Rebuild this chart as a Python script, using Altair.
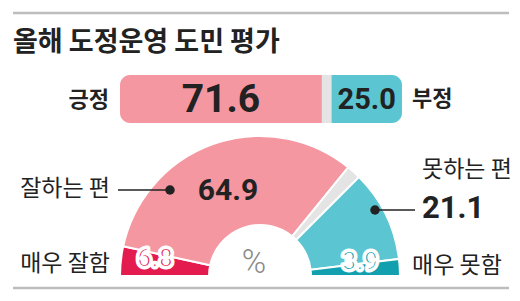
import altair as alt
import pandas as pd

# ---- data ----
overall_labels = ["긍정", "기타", "부정"]
overall_values = [71.6, 3.4, 25.0]
overall_colors = ["#F497A1", "#E4E4E4", "#5BC5D1"]

detail_labels = ["매우 잘함", "잘하는 편", "기타", "못하는 편", "매우 못함"]
detail_values = [6.8, 64.9, 3.3, 21.1, 3.9]
detail_colors = ["#E31B4F", "#F497A1", "#E4E4E4", "#5BC5D1", "#13A0AE"]

title_text = "올해 도정운영 도민 평가"

KFONT = "Noto Sans CJK KR"
NFONT = "Roboto"
W, H = 520, 301

# ---- tables ----
starts = []
acc = 0.0
for v in overall_values:
    starts.append(acc)
    acc += v
bar_df = pd.DataFrame({
    "label": overall_labels,
    "value": overall_values,
    "start": starts,
    "end": [s + v for s, v in zip(starts, overall_values)],
    "color": overall_colors,
})
bar_df["mid"] = (bar_df["start"] + bar_df["end"]) / 2

arc_df = pd.DataFrame({
    "label": detail_labels,
    "value": detail_values,
    "order": list(range(len(detail_labels))),
    "color": detail_colors,
})

xbar = alt.Scale(domain=[0, 100], range=[120, 402])

def bar_layer(label, **corner):
    return alt.Chart(bar_df).transform_filter(
        alt.datum.label == label
    ).mark_bar(**corner).encode(
        x=alt.X("start:Q", scale=xbar, axis=None),
        x2="end:Q",
        y=alt.value(75),
        y2=alt.value(123),
        color=alt.Color("color:N", scale=None, legend=None),
    )

bars = (
    bar_layer("긍정", cornerRadiusTopLeft=10, cornerRadiusBottomLeft=10)
    + bar_layer("기타")
    + bar_layer("부정", cornerRadiusTopRight=10, cornerRadiusBottomRight=10)
)

bar_text_big = alt.Chart(bar_df).transform_filter(alt.datum.label == "긍정").mark_text(
    font=NFONT, fontWeight="bold", fontSize=39, color="#222222", baseline="middle", dy=1
).encode(
    x=alt.X("mid:Q", scale=xbar, axis=None),
    y=alt.value(99),
    text=alt.Text("value:Q", format=".1f"),
)
bar_text_small = alt.Chart(bar_df).transform_filter(alt.datum.label == "부정").mark_text(
    font=NFONT, fontWeight="bold", fontSize=29, color="#222222", baseline="middle", dy=1
).encode(
    x=alt.X("mid:Q", scale=xbar, axis=None),
    y=alt.value(99),
    text=alt.Text("value:Q", format=".1f"),
)

arcs = alt.Chart(arc_df).mark_arc(
    outerRadius=140, innerRadius=51, stroke="white", strokeWidth=2
).encode(
    theta=alt.Theta("value:Q", stack=True,
                    scale=alt.Scale(domain=[0, 100], range=[-1.5708, 1.5708])),
    order=alt.Order("order:Q"),
    color=alt.Color("color:N", scale=None, legend=None),
    x=alt.value(260),
    y=alt.value(276),
)

def txt(text, x, y, size, align="left", weight="normal", font=KFONT, color="#222222", **kw):
    return alt.Chart(pd.DataFrame({"t": [text]})).mark_text(
        font=font, fontSize=size, fontWeight=weight, align=align,
        baseline="middle", color=color, **kw
    ).encode(x=alt.value(x), y=alt.value(y), text="t:N")

def outlined(text, x, y, size, color):
    halo = txt(text, x, y, size, align="center", weight="bold", font=NFONT,
               color="white", stroke="white", strokeWidth=5, strokeJoin="round")
    core = txt(text, x, y, size, align="center", weight="bold", font=NFONT,
               color=color, stroke="white", strokeWidth=2.2, strokeJoin="round")
    return halo + core

def rule(x1, x2, y, color, width):
    return alt.Chart(pd.DataFrame({"a": [0]})).mark_rule(
        color=color, strokeWidth=width
    ).encode(x=alt.value(x1), x2=alt.value(x2), y=alt.value(y))

def dot(x, y):
    return alt.Chart(pd.DataFrame({"a": [0]})).mark_point(
        filled=True, size=90, color="#222222", opacity=1
    ).encode(x=alt.value(x), y=alt.value(y))

v = dict(zip(detail_labels, detail_values))

layers = [
    rule(13, 509, 13, "#BDBDBD", 2.5),
    rule(13, 509, 288, "#BDBDBD", 2.5),
    txt(title_text, 13, 43, 27, weight="bold", color="#222222"),
    bars,
    bar_text_big,
    bar_text_small,
    txt(overall_labels[0], 109, 100, 22, align="right", weight="bold"),
    txt(overall_labels[2], 412, 99, 22, align="left", weight="bold"),
    arcs,
    txt("%", 254, 263, 33, align="center", color="#8A8A8A", font=NFONT, weight=300),
    rule(118, 170, 190, "#222222", 1.5),
    dot(170, 190),
    txt("잘하는 편", 110, 189, 23, align="right"),
    txt(f"{v['잘하는 편']:.1f}", 228, 191, 30, align="center", weight="bold", font=NFONT),
    txt("못하는 편", 422, 170, 23, align="left"),
    rule(375, 415, 210, "#222222", 1.5),
    dot(375, 210),
    txt(f"{v['못하는 편']:.1f}", 422, 209, 31, align="left", weight="bold", font=NFONT),
    txt("매우 잘함", 110, 264, 23, align="right"),
    outlined(f"{v['매우 잘함']:.1f}", 155, 259, 25, "#E31B4F"),
    outlined(f"{v['매우 못함']:.1f}", 360, 262, 25, "#13A0AE"),
    txt("매우 못함", 412, 266, 23, align="left"),
]

chart = alt.layer(*layers).properties(
    width=W, height=H, autosize=alt.AutoSizeParams(type="none"), padding=0,
    background="white",
).configure_view(stroke=None)

chart.save("out.html", embed_options={"renderer": "svg", "actions": False})
